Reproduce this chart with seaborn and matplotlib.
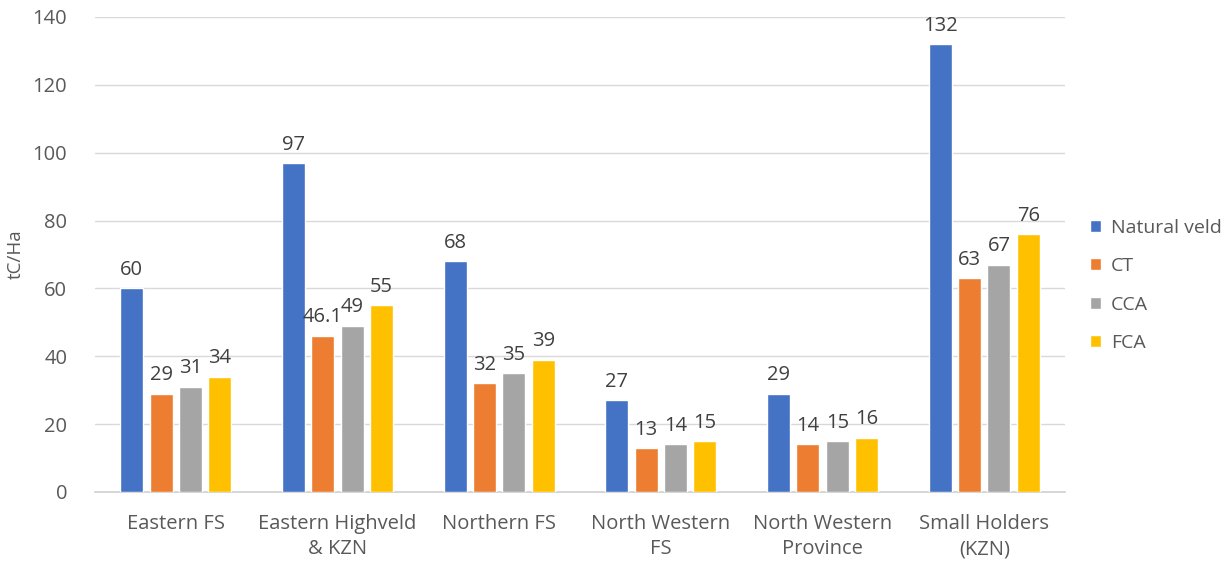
import matplotlib
matplotlib.use("Agg")
import matplotlib.pyplot as plt
import seaborn as sns
import pandas as pd

regions = ["Eastern FS", "Eastern Highveld\n& KZN", "Northern FS",
           "North Western\nFS", "North Western\nProvince", "Small Holders\n(KZN)"]
series = ["Natural veld", "CT", "CCA", "FCA"]
natural_veld = [60, 97, 68, 27, 29, 132]
ct = [29, 46.1, 32, 13, 14, 63]
cca = [31, 49, 35, 14, 15, 67]
fca = [34, 55, 39, 15, 16, 76]
colors = ["#4472C4", "#ED7D31", "#A5A5A5", "#FFC000"]
y_ticks = [0, 20, 40, 60, 80, 100, 120, 140]

rows = []
for name, vals in zip(series, [natural_veld, ct, cca, fca]):
    for reg, v in zip(regions, vals):
        rows.append({"Region": reg, "Series": name, "tC/Ha": v})
df = pd.DataFrame(rows)

sns.set_theme(style="white")
plt.rcParams["font.family"] = ["Open Sans", "DejaVu Sans"]
text_color = "#595959"
fs = 14.5

fig = plt.figure(figsize=(12.3, 5.62), dpi=100)
ax = fig.add_axes([0.0772, 0.1246, 0.866 - 0.0772, 0.9698 - 0.1246])

sns.barplot(data=df, x="Region", y="tC/Ha", hue="Series", hue_order=series,
            order=regions, palette=colors, width=0.725, gap=0.215,
            errorbar=None, ax=ax, saturation=1, zorder=3)

ax.set_ylim(0, 140)
ax.set_yticks(y_ticks)
ax.set_xlim(-0.5, len(regions) - 0.5)
ax.yaxis.grid(True, color="#D9D9D9", linewidth=1, zorder=0)
ax.set_axisbelow(True)
for side in ["left", "right", "top"]:
    ax.spines[side].set_visible(False)
ax.spines["bottom"].set_color("#D0D0D0")
ax.spines["bottom"].set_linewidth(1.2)
ax.tick_params(axis="y", length=0, labelsize=fs, colors=text_color, pad=20)
ax.tick_params(axis="x", length=0, labelsize=fs, colors=text_color, pad=16)
for lbl in ax.get_xticklabels():
    lbl.set_linespacing(1.35)
ax.set_xlabel("")
ax.set_ylabel("tC/Ha", fontsize=fs - 1, color=text_color)
ax.yaxis.set_label_coords(-0.072, 0.5)

for container in ax.containers:
    labels = [f"{v:g}" for v in container.datavalues]
    ax.bar_label(container, labels=labels, padding=6, fontsize=fs, color="#404040")

handles, lbls = ax.get_legend_handles_labels()
ax.legend(handles, lbls, loc="center left", bbox_to_anchor=(1.008, 0.435),
          frameon=False, fontsize=fs - 0.5, labelcolor=text_color,
          handlelength=0.55, handleheight=0.55, handletextpad=0.5, labelspacing=1.05)

fig.savefig("out.png", dpi=100)
